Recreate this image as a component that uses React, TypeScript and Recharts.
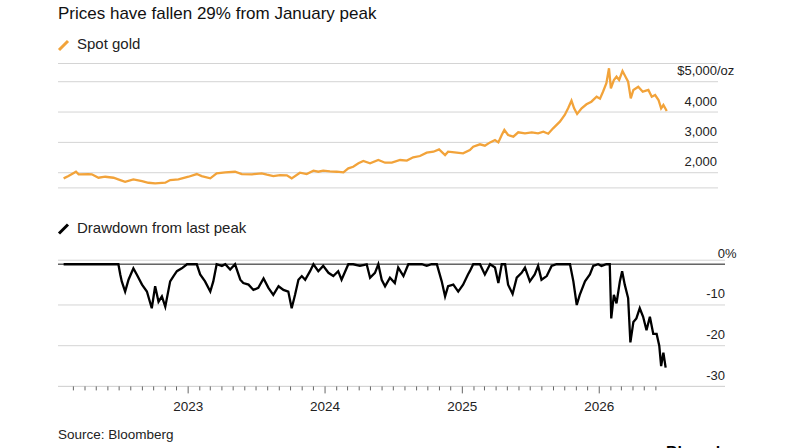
import { LineChart, Line, XAxis, YAxis, CartesianGrid, ReferenceLine } from 'recharts'

const FONT = '"Liberation Sans", Arial, Helvetica, sans-serif'
const GOLD = '#f2a33a'

// spot gold, $/oz
const goldDates = [
  '2022-02-03', '2022-02-16', '2022-03-08', '2022-03-15', '2022-04-10', '2022-04-19', '2022-05-07', '2022-05-25',
  '2022-06-16', '2022-07-04', '2022-07-17', '2022-08-08', '2022-08-31', '2022-09-17', '2022-10-05', '2022-11-01',
  '2022-11-14', '2022-12-06', '2023-01-02', '2023-01-24', '2023-02-06', '2023-03-01', '2023-03-18', '2023-04-10',
  '2023-05-06', '2023-05-24', '2023-06-20', '2023-07-16', '2023-07-30', '2023-08-16', '2023-09-03', '2023-09-21',
  '2023-10-04', '2023-10-26', '2023-11-13', '2023-12-01', '2023-12-14', '2023-12-27', '2024-01-14', '2024-02-01',
  '2024-02-19', '2024-03-03', '2024-03-16', '2024-03-30', '2024-04-12', '2024-04-30', '2024-05-22', '2024-06-09',
  '2024-06-27', '2024-07-19', '2024-08-06', '2024-08-23', '2024-09-10', '2024-09-28', '2024-10-16', '2024-10-31',
  '2024-11-16', '2024-11-24', '2024-12-17', '2025-01-03', '2025-01-21', '2025-01-30', '2025-02-17', '2025-03-02',
  '2025-03-16', '2025-03-29', '2025-04-07', '2025-04-16', '2025-04-23', '2025-05-03', '2025-05-17', '2025-05-30',
  '2025-06-17', '2025-07-05', '2025-07-22', '2025-08-05', '2025-08-18', '2025-08-31', '2025-09-18', '2025-10-01',
  '2025-10-10', '2025-10-19', '2025-10-26', '2025-11-03', '2025-11-15', '2025-11-28', '2025-12-11', '2025-12-25',
  '2026-01-03', '2026-01-11', '2026-01-20', '2026-01-27', '2026-02-01', '2026-02-09', '2026-02-16', '2026-02-23',
  '2026-03-04', '2026-03-12', '2026-03-19', '2026-03-26', '2026-04-02', '2026-04-15', '2026-04-27', '2026-05-12',
  '2026-05-21', '2026-05-30', '2026-06-08', '2026-06-15', '2026-06-21', '2026-06-30',
]
const goldPrices = [
  1815, 1891, 2033, 1947, 1957, 1947, 1835, 1868,
  1835, 1759, 1703, 1782, 1726, 1670, 1650, 1670,
  1759, 1782, 1868, 1957, 1891, 1815, 1980, 2013,
  2033, 1957, 1947, 1980, 1934, 1891, 1924, 1913,
  1815, 2000, 1957, 2066, 2033, 2066, 2046, 2033,
  2013, 2145, 2198, 2310, 2386, 2310, 2419, 2330,
  2330, 2419, 2400, 2508, 2551, 2660, 2693, 2771,
  2584, 2693, 2660, 2640, 2748, 2857, 2936, 2890,
  3000, 3078, 3000, 3243, 3408, 3243, 3187, 3332,
  3299, 3332, 3299, 3352, 3286, 3464, 3682, 3903,
  4123, 4374, 4123, 3935, 4123, 4255, 4341, 4506,
  4440, 4671, 4948, 5442, 4783, 5056, 5165, 5056,
  5353, 5165, 4999, 4452, 4727, 4836, 4671, 4727,
  4506, 4562, 4397, 4123, 4232, 4034,
]

// drawdown from last peak, %
const drawdownDates = [
  '2022-02-03', '2022-06-29', '2022-07-04', '2022-07-08', '2022-07-17', '2022-07-26', '2022-08-08', '2022-08-17',
  '2022-08-31', '2022-09-13', '2022-09-26', '2022-10-05', '2022-10-14', '2022-10-23', '2022-11-01', '2022-11-14',
  '2022-11-23', '2022-12-02', '2022-12-15', '2022-12-29', '2023-01-11', '2023-01-24', '2023-02-02', '2023-02-15',
  '2023-03-01', '2023-03-09', '2023-03-18', '2023-04-01', '2023-04-10', '2023-04-23', '2023-05-06', '2023-05-20',
  '2023-05-28', '2023-06-11', '2023-06-24', '2023-07-07', '2023-07-21', '2023-08-03', '2023-08-16', '2023-08-30',
  '2023-09-12', '2023-09-25', '2023-10-04', '2023-10-13', '2023-10-22', '2023-10-31', '2023-11-09', '2023-11-22',
  '2023-12-01', '2023-12-14', '2023-12-27', '2024-01-10', '2024-01-23', '2024-02-05', '2024-02-14', '2024-03-03',
  '2024-03-16', '2024-04-03', '2024-04-21', '2024-04-30', '2024-05-13', '2024-05-22', '2024-05-31', '2024-06-09',
  '2024-06-22', '2024-07-05', '2024-07-14', '2024-07-28', '2024-08-10', '2024-08-28', '2024-09-15', '2024-09-28',
  '2024-10-11', '2024-10-25', '2024-11-07', '2024-11-16', '2024-11-24', '2024-12-08', '2024-12-21', '2025-01-03',
  '2025-01-16', '2025-01-21', '2025-01-30', '2025-02-17', '2025-03-02', '2025-03-16', '2025-03-29', '2025-04-07',
  '2025-04-16', '2025-04-25', '2025-05-03', '2025-05-15', '2025-05-26', '2025-06-08', '2025-06-17', '2025-06-30',
  '2025-07-13', '2025-07-22', '2025-07-31', '2025-08-14', '2025-08-27', '2025-09-09', '2025-09-27', '2025-10-15',
  '2025-10-24', '2025-11-02', '2025-11-10', '2025-11-24', '2025-12-07', '2025-12-16', '2025-12-29', '2026-01-07',
  '2026-01-20', '2026-01-29', '2026-02-02', '2026-02-09', '2026-02-16', '2026-02-25', '2026-03-03', '2026-03-10',
  '2026-03-19', '2026-03-25', '2026-04-02', '2026-04-10', '2026-04-19', '2026-04-28', '2026-05-07', '2026-05-16',
  '2026-05-25', '2026-06-03', '2026-06-10', '2026-06-15', '2026-06-21', '2026-06-27',
]
const drawdownPct = [
  0, 0, -2.5, -4.2, -6.7, -3.8, -1, -2.5,
  -5, -6.7, -10.8, -5.4, -9.2, -7.9, -10.4, -4.2,
  -2.9, -1.7, -1, 0, 0, 0, -2.5, -4.2,
  -6.7, -4.2, 0, -0.4, 0, -1.3, 0, -3.8,
  -4.6, -5, -6.3, -5.8, -3.5, -5.8, -7.5, -5.4,
  -6.3, -6.7, -10.8, -7.5, -3.8, -2.9, -3.8, -1.7,
  0, -1.7, -0.4, -2.1, -2.9, -1.7, -3.8, 0,
  0, -0.4, 0, -3.3, -2.1, 0, -3.8, -5.4,
  -3.3, -4.6, -0.8, -2.9, 0, 0, 0, -0.4,
  0, 0, -4.2, -7.9, -5.4, -5, -6.7, -5,
  -2.5, -1.7, 0, 0, -2.5, 0, -0.8, -4.6,
  0, 0, -5, -7.3, -3.3, -2.1, -0.8, -4.2,
  -2.5, -0.4, -3.8, -2.9, -0.4, 0, 0, 0,
  -4.2, -10, -7.5, -4.2, -2.5, -0.4, 0, -0.4,
  0, 0, -13.3, -7.5, -9.6, -4.2, -1.7, -5,
  -8.3, -19.2, -14.2, -13.3, -10.8, -12.9, -16.2, -12.9,
  -17.1, -17.1, -20, -25, -21.7, -25.4,
]

const goldTicks = [2000, 3000, 4000, 5000]
const drawdownTicks = [0, -10, -20, -30]
const yearLabels = ['2023', '2024', '2025', '2026']

const goldData = goldDates.map((d, i) => ({ t: Date.parse(d), v: goldPrices[i] }))
const drawdownData = drawdownDates.map((d, i) => ({ t: Date.parse(d), v: drawdownPct[i] }))

// time axis: 137px per year, plot starts at x=58
const X_START = Date.UTC(2022, 0, 19)
const MS_PER_PX = (365.25 * 864e5) / 137

const monthTicks: number[] = []
for (let y = 2022; y <= 2026; y++) {
  for (let m = 0; m < 12; m++) {
    if ((y === 2022 && m < 2) || (y === 2026 && m > 5)) continue
    monthTicks.push(Date.UTC(y, m, 1))
  }
}

const labelStyle = { fontFamily: FONT, fontSize: 13, fill: '#222' }

function GoldTick(props: any) {
  const { x, y, payload } = props
  if (payload.value === 5000) {
    return (
      <g>
        <text x={x - 1} y={y - 6.5} textAnchor="end" {...labelStyle}>$5,000</text>
        <text x={x - 1} y={y - 6.5} textAnchor="start" {...labelStyle}>/oz</text>
      </g>
    )
  }
  return (
    <text x={x - 1} y={y - 6.5} textAnchor="end" {...labelStyle}>
      {payload.value.toLocaleString('en-US')}
    </text>
  )
}

function DrawdownTick(props: any) {
  const { x, y, payload } = props
  if (payload.value === 0) {
    return (
      <g>
        <text x={x} y={y - 6.5} textAnchor="end" {...labelStyle}>0</text>
        <text x={x} y={y - 6.5} textAnchor="start" {...labelStyle}>%</text>
      </g>
    )
  }
  return (
    <text x={x} y={y - 6.5} textAnchor="end" {...labelStyle}>{payload.value}</text>
  )
}

function MonthTick(props: any) {
  const { x, y, payload } = props
  const d = new Date(payload.value)
  const label = d.getUTCMonth() === 0 ? yearLabels.find((l) => +l === d.getUTCFullYear()) : undefined
  return (
    <g>
      <line x1={x} x2={x} y1={y} y2={y + (label ? 7 : 4)} stroke="#666" strokeWidth={1} />
      {label && (
        <text x={x} y={y + 24.6} textAnchor="middle" {...labelStyle} fontSize={13.5}>{label}</text>
      )}
    </g>
  )
}

function Slash({ x, y, color }: { x: number; y: number; color: string }) {
  return <line x1={x} y1={y} x2={x + 9} y2={y - 9} stroke={color} strokeWidth={3} />
}

export default function App() {
  return (
    <div style={{ position: 'absolute', left: 0, top: 0, width: 800, height: 448, background: '#fff', overflow: 'hidden' }}>
      <div style={{ position: 'absolute', left: 0, top: 0 }}>
        <LineChart width={800} height={200} data={goldData} margin={{ top: 63.5, right: 22, bottom: 12.1, left: 58 }}>
          <CartesianGrid vertical={false} stroke="#d4d4d4" />
          <XAxis dataKey="t" type="number" domain={[X_START, X_START + 660 * MS_PER_PX]} allowDataOverflow hide />
          <YAxis
            orientation="right"
            width={60}
            domain={[1500, 5600]}
            allowDataOverflow
            ticks={goldTicks}
            axisLine={false}
            tickLine={false}
            tickSize={0}
            tickMargin={0}
            tick={<GoldTick />}
          />
          <Line type="linear" dataKey="v" stroke={GOLD} strokeWidth={2.3} dot={false} isAnimationActive={false} />
        </LineChart>
      </div>
      <div style={{ position: 'absolute', left: 0, top: 200 }}>
        <LineChart width={800} height={248} data={drawdownData} margin={{ top: 60.2, right: 15, bottom: 21.6, left: 58 }}>
          <CartesianGrid vertical={false} stroke="#d4d4d4" />
          <XAxis
            dataKey="t"
            type="number"
            domain={[X_START, X_START + 667 * MS_PER_PX]}
            allowDataOverflow
            ticks={monthTicks}
            interval={0}
            height={40}
            axisLine={{ stroke: '#d4d4d4' }}
            tickLine={false}
            tickSize={0}
            tickMargin={0}
            tick={<MonthTick />}
          />
          <YAxis
            orientation="right"
            width={60}
            domain={[-30, 1]}
            allowDataOverflow
            ticks={drawdownTicks}
            axisLine={false}
            tickLine={false}
            tickSize={0}
            tickMargin={0}
            tick={<DrawdownTick />}
          />
          <ReferenceLine y={0} stroke="#666" strokeWidth={1.3} />
          <Line type="linear" dataKey="v" stroke="#000" strokeWidth={2.3} dot={false} isAnimationActive={false} />
        </LineChart>
      </div>
      <svg width={800} height={448} style={{ position: 'absolute', left: 0, top: 0, pointerEvents: 'none' }}>
        <text x={58} y={19.3} fontFamily={FONT} fontSize={17} fill="#111">Prices have fallen 29% from January peak</text>
        <Slash x={59} y={50} color={GOLD} />
        <text x={77} y={49.3} fontFamily={FONT} fontSize={15} fill="#222">Spot gold</text>
        <Slash x={59} y={233.5} color="#000" />
        <text x={77} y={232.7} fontFamily={FONT} fontSize={15} fill="#222">Drawdown from last peak</text>
        <text x={58} y={439} fontFamily={FONT} fontSize={13.5} fill="#222">Source: Bloomberg</text>
        <text x={666} y={458} fontFamily={FONT} fontSize={16} fontWeight={700} fill="#000">Bloomberg</text>
      </svg>
    </div>
  )
}
